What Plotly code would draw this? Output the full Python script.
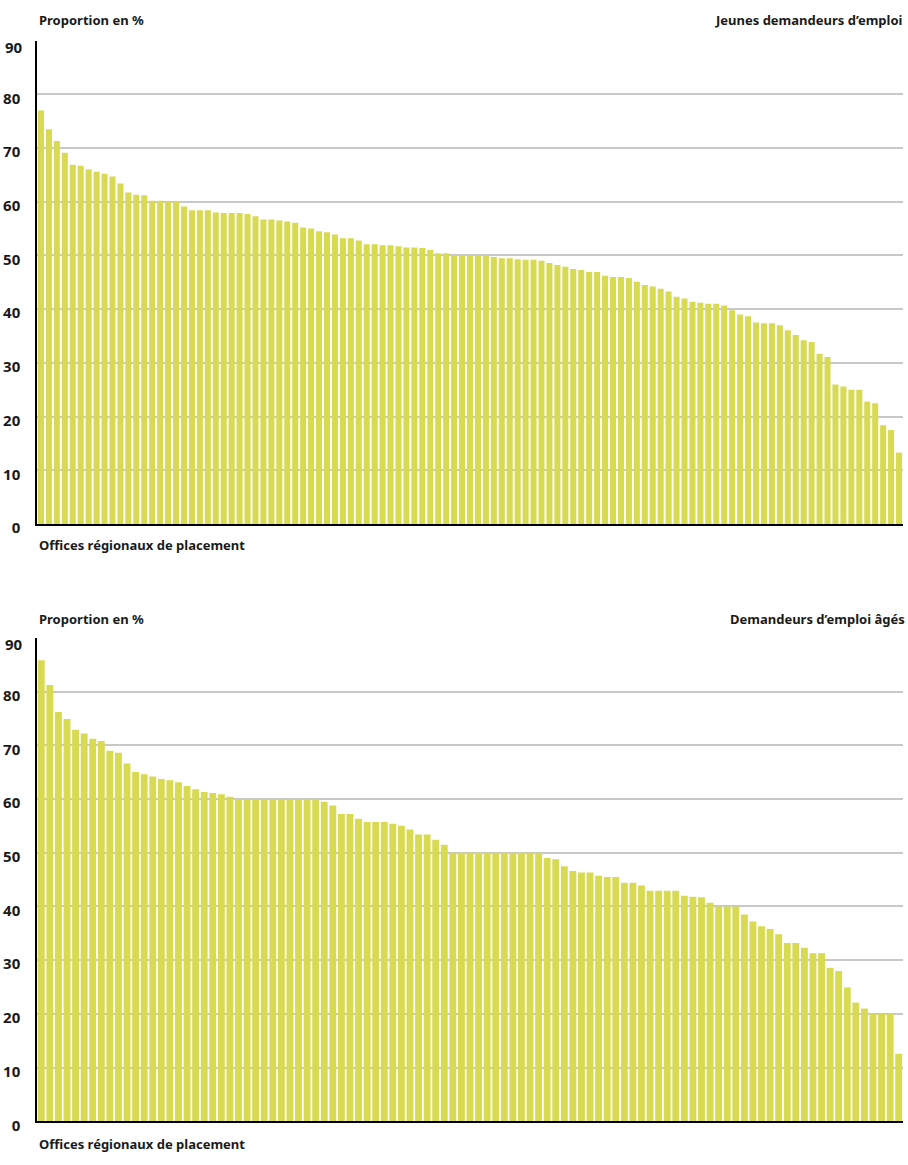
import plotly.graph_objects as go

# ---------------- data ----------------
young = [77.0, 73.5, 71.3, 69.1, 66.9, 66.7, 66.0, 65.6, 65.2, 64.7,
         63.4, 61.7, 61.3, 61.2, 60.2, 60.2, 60.1, 60.0, 59.1, 58.4,
         58.4, 58.4, 58.0, 57.9, 57.9, 57.9, 57.7, 57.3, 56.7, 56.7,
         56.5, 56.3, 56.1, 55.2, 55.0, 54.5, 54.3, 53.9, 53.2, 53.2,
         52.8, 52.1, 52.1, 51.9, 51.9, 51.7, 51.5, 51.5, 51.4, 51.0,
         50.4, 50.4, 50.1, 50.1, 50.1, 50.1, 50.1, 49.7, 49.5, 49.5,
         49.3, 49.2, 49.2, 49.0, 48.6, 48.2, 47.9, 47.5, 47.3, 46.9,
         46.9, 46.2, 46.0, 46.0, 45.8, 45.1, 44.5, 44.2, 43.8, 43.3,
         42.3, 42.0, 41.4, 41.2, 41.0, 41.0, 40.7, 39.8, 39.0, 38.7,
         37.5, 37.4, 37.4, 37.0, 36.1, 35.2, 34.2, 33.9, 31.7, 31.1,
         26.0, 25.6, 25.0, 25.0, 22.8, 22.5, 18.4, 17.5, 13.3]

older = [85.8, 81.2, 76.2, 74.9, 72.9, 72.2, 71.2, 70.8, 69.0, 68.6,
         66.6, 65.0, 64.6, 64.2, 63.7, 63.5, 63.1, 62.4, 61.8, 61.3,
         61.1, 60.9, 60.4, 60.0, 60.0, 60.0, 60.0, 60.0, 60.0, 60.0,
         60.0, 60.0, 60.0, 59.5, 58.8, 57.2, 57.2, 56.3, 55.7, 55.7,
         55.7, 55.4, 55.0, 54.3, 53.4, 53.4, 52.4, 51.5, 50.0, 50.0,
         50.0, 50.0, 50.0, 50.0, 50.0, 50.0, 50.0, 50.0, 50.0, 49.0,
         48.8, 47.5, 46.6, 46.3, 46.3, 45.7, 45.5, 45.5, 44.4, 44.4,
         43.9, 42.9, 42.9, 42.9, 42.9, 42.0, 41.8, 41.7, 40.7, 40.0,
         40.0, 40.0, 38.5, 37.2, 36.3, 35.8, 34.8, 33.2, 33.2, 32.3,
         31.3, 31.3, 28.6, 28.0, 24.9, 22.1, 21.0, 20.0, 20.0, 20.0,
         12.6]

young_offices = list(range(1, len(young) + 1))
older_offices = list(range(1, len(older) + 1))

# gridline values; the top label ("90") is drawn separately, a little below its line
y_ticks = [0, 10, 20, 30, 40, 50, 60, 70, 80, 90]
y_ticktext = ["0", "10", "20", "30", "40", "50", "60", "70", "80", ""]
y_top_value = 90
y_top_label = "90"

title_top = "Jeunes demandeurs d’emploi"
title_bottom = "Demandeurs d’emploi âgés"
y_label = "Proportion en %"
x_label = "Offices régionaux de placement"

# ---------------- style ----------------
W, H = 908, 1165
BAR = "#d8da52"
GRID = "#c8c8c8"
FONT = "Noto Sans"
TXT = "#1a1a1a"
STANDOFF = 12

def py(p):
    return 1 - p / H

fig = go.Figure()
fig.add_trace(go.Bar(x=young_offices, y=young, width=0.76, marker_color=BAR,
                     marker_line_width=0, xaxis="x", yaxis="y", showlegend=False))
fig.add_trace(go.Bar(x=older_offices, y=older, width=0.8, marker_color=BAR,
                     marker_line_width=0, xaxis="x2", yaxis="y2", showlegend=False))

tickfont = dict(family=FONT, size=15, color=TXT, weight=700)
yax = dict(range=[0, 90], tickvals=y_ticks, ticktext=y_ticktext,
           showgrid=True, gridcolor=GRID, gridwidth=1.5,
           showline=True, linecolor="black", linewidth=1.5, zeroline=False,
           tickfont=tickfont, ticks="", ticklabelstandoff=STANDOFF,
           ticklabelshift=4, fixedrange=True)
xax = dict(showticklabels=False, ticks="", showgrid=False, zeroline=False,
           showline=True, linecolor="black", linewidth=2, domain=[0, 1],
           fixedrange=True)

fig.update_layout(
    width=W, height=H,
    margin=dict(l=37, r=5, t=0, b=0),
    plot_bgcolor="white", paper_bgcolor="white",
    xaxis=dict(xax, anchor="y", range=[0.5, len(young) + 0.5]),
    yaxis=dict(yax, anchor="x", domain=[py(530), py(41)]),
    xaxis2=dict(xax, anchor="y2", range=[0.5, len(older) + 0.5]),
    yaxis2=dict(yax, anchor="x2", domain=[py(1134), py(645)]),
)

def ann(text, x, y, xanchor):
    fig.add_annotation(text=text, xref="paper", yref="paper", x=x, y=py(y),
                       xanchor=xanchor, yanchor="middle", showarrow=False,
                       font=dict(family=FONT, size=13, color=TXT, weight=700))

ann(y_label, 0, 20, "left")
ann(title_top, 1.002, 20, "right")
ann(x_label, 0, 551, "left")
ann(y_label, 0, 626, "left")
ann(title_bottom, 1.005, 626, "right")
ann(x_label, 0, 1157, "left")

for yref in ("y", "y2"):
    fig.add_annotation(text=y_top_label, xref="paper", yref=yref, x=0, y=y_top_value,
                       xanchor="right", yanchor="middle", xshift=-STANDOFF, yshift=-6,
                       showarrow=False, font=tickfont)

fig.write_html(
    "out.html",
    config={"displayModeBar": False},
    post_script=(
        "document.body.style.margin='0';document.body.style.padding='0';"
        "document.documentElement.style.overflow='hidden';"
        "var d=document.getElementById('{plot_id}');"
        "d.style.position='fixed';d.style.top='0px';d.style.left='0px';"
    ),
)
